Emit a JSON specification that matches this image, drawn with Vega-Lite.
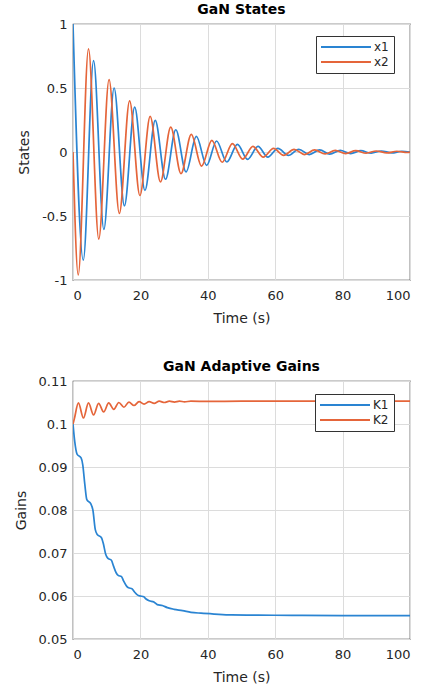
{
  "$schema": "https://vega.github.io/schema/vega-lite/v6.json",
  "background": "white",
  "padding": {"left": 13, "top": 2, "right": 5, "bottom": 0},
  "spacing": 33,
  "config": {
    "font": "DejaVu Sans",
    "view": {"stroke": "#333333", "strokeWidth": 1.2},
    "axis": {
      "labelFont": "DejaVu Sans", "labelFontSize": 13, "labelColor": "#262626",
      "titleFont": "DejaVu Sans", "titleFontSize": 14, "titleFontWeight": "normal", "titleColor": "#262626",
      "grid": true, "gridColor": "#dcdcdc", "gridWidth": 1,
      "domain": false, "ticks": false, "labelPadding": 9, "titlePadding": 9
    },
    "axisY": {"labelPadding": 6, "titlePadding": 10},
    "title": {"font": "DejaVu Sans", "fontSize": 14, "fontWeight": "bold", "color": "#000000", "offset": 1},
    "legend": {
      "orient": "none", "title": null,
      "strokeColor": "#333333", "fillColor": "white", "padding": 5,
      "symbolType": "M-5,0H5", "symbolSize": 100, "symbolStrokeWidth": 2, "symbolOffset": 19,
      "labelFont": "DejaVu Sans", "labelFontSize": 12, "labelColor": "#262626", "labelOffset": 22,
      "rowPadding": 3
    }
  },
  "datasets": {
    "states": [
      {"t": 0, "s": "x1", "v": 1},
      {"t": 3.05, "s": "x1", "v": -0.845},
      {"t": 6.1, "s": "x1", "v": 0.714},
      {"t": 9.15, "s": "x1", "v": -0.605},
      {"t": 12.2, "s": "x1", "v": 0.5},
      {"t": 15.25, "s": "x1", "v": -0.42},
      {"t": 18.3, "s": "x1", "v": 0.35},
      {"t": 21.35, "s": "x1", "v": -0.3},
      {"t": 24.4, "s": "x1", "v": 0.247},
      {"t": 27.45, "s": "x1", "v": -0.213},
      {"t": 30.5, "s": "x1", "v": 0.174},
      {"t": 33.55, "s": "x1", "v": -0.156},
      {"t": 36.6, "s": "x1", "v": 0.122},
      {"t": 39.65, "s": "x1", "v": -0.104},
      {"t": 42.6, "s": "x1", "v": 0.086},
      {"t": 45.65, "s": "x1", "v": -0.078},
      {"t": 48.8, "s": "x1", "v": 0.06},
      {"t": 51.8, "s": "x1", "v": -0.057},
      {"t": 54.9, "s": "x1", "v": 0.044},
      {"t": 57.8, "s": "x1", "v": -0.04},
      {"t": 60.8, "s": "x1", "v": 0.028},
      {"t": 63.9, "s": "x1", "v": -0.027},
      {"t": 67, "s": "x1", "v": 0.021},
      {"t": 70.1, "s": "x1", "v": -0.02},
      {"t": 73.2, "s": "x1", "v": 0.016},
      {"t": 76.2, "s": "x1", "v": -0.016},
      {"t": 79.3, "s": "x1", "v": 0.012},
      {"t": 82.4, "s": "x1", "v": -0.012},
      {"t": 85.4, "s": "x1", "v": 0.01},
      {"t": 88.5, "s": "x1", "v": -0.009},
      {"t": 91.5, "s": "x1", "v": 0.008},
      {"t": 94.6, "s": "x1", "v": -0.007},
      {"t": 97.6, "s": "x1", "v": 0.006},
      {"t": 100, "s": "x1", "v": 0},
      {"t": 0, "s": "x2", "v": 0},
      {"t": 1.55, "s": "x2", "v": -0.96},
      {"t": 4.6, "s": "x2", "v": 0.805},
      {"t": 7.65, "s": "x2", "v": -0.68},
      {"t": 10.7, "s": "x2", "v": 0.566},
      {"t": 13.75, "s": "x2", "v": -0.48},
      {"t": 16.8, "s": "x2", "v": 0.4},
      {"t": 19.85, "s": "x2", "v": -0.34},
      {"t": 22.9, "s": "x2", "v": 0.278},
      {"t": 25.95, "s": "x2", "v": -0.234},
      {"t": 29.0, "s": "x2", "v": 0.195},
      {"t": 32.05, "s": "x2", "v": -0.169},
      {"t": 35.1, "s": "x2", "v": 0.138},
      {"t": 38.15, "s": "x2", "v": -0.11},
      {"t": 41.2, "s": "x2", "v": 0.091},
      {"t": 44.25, "s": "x2", "v": -0.08},
      {"t": 47.3, "s": "x2", "v": 0.065},
      {"t": 50.35, "s": "x2", "v": -0.056},
      {"t": 53.4, "s": "x2", "v": 0.044},
      {"t": 56.45, "s": "x2", "v": -0.04},
      {"t": 59.5, "s": "x2", "v": 0.028},
      {"t": 62.5, "s": "x2", "v": -0.026},
      {"t": 65.6, "s": "x2", "v": 0.021},
      {"t": 68.7, "s": "x2", "v": -0.02},
      {"t": 71.7, "s": "x2", "v": 0.016},
      {"t": 74.8, "s": "x2", "v": -0.015},
      {"t": 77.8, "s": "x2", "v": 0.012},
      {"t": 80.9, "s": "x2", "v": -0.012},
      {"t": 83.9, "s": "x2", "v": 0.01},
      {"t": 87, "s": "x2", "v": -0.009},
      {"t": 90, "s": "x2", "v": 0.008},
      {"t": 93.1, "s": "x2", "v": -0.007},
      {"t": 96.1, "s": "x2", "v": 0.006},
      {"t": 99.2, "s": "x2", "v": -0.004},
      {"t": 100, "s": "x2", "v": 0}
    ],
    "gains": [
      {"t": 0, "s": "K1", "v": 0.1},
      {"t": 0.5, "s": "K1", "v": 0.096},
      {"t": 1.2, "s": "K1", "v": 0.093},
      {"t": 2.4, "s": "K1", "v": 0.0921},
      {"t": 2.9, "s": "K1", "v": 0.0905},
      {"t": 3.5, "s": "K1", "v": 0.086},
      {"t": 4.1, "s": "K1", "v": 0.0824},
      {"t": 5.3, "s": "K1", "v": 0.0814},
      {"t": 5.9, "s": "K1", "v": 0.08},
      {"t": 6.6, "s": "K1", "v": 0.0755},
      {"t": 7.2, "s": "K1", "v": 0.0743},
      {"t": 8.4, "s": "K1", "v": 0.0736},
      {"t": 9.0, "s": "K1", "v": 0.0722},
      {"t": 9.7, "s": "K1", "v": 0.0697},
      {"t": 10.3, "s": "K1", "v": 0.0688},
      {"t": 11.4, "s": "K1", "v": 0.0683},
      {"t": 12.0, "s": "K1", "v": 0.067},
      {"t": 12.8, "s": "K1", "v": 0.0654},
      {"t": 13.4, "s": "K1", "v": 0.0648},
      {"t": 14.4, "s": "K1", "v": 0.0645},
      {"t": 15.0, "s": "K1", "v": 0.0635},
      {"t": 15.9, "s": "K1", "v": 0.0623},
      {"t": 16.5, "s": "K1", "v": 0.0619},
      {"t": 17.5, "s": "K1", "v": 0.0617},
      {"t": 18.2, "s": "K1", "v": 0.061},
      {"t": 19.2, "s": "K1", "v": 0.0602},
      {"t": 20.0, "s": "K1", "v": 0.06},
      {"t": 21.0, "s": "K1", "v": 0.0598},
      {"t": 21.7, "s": "K1", "v": 0.0593},
      {"t": 22.6, "s": "K1", "v": 0.0589},
      {"t": 24.0, "s": "K1", "v": 0.0586},
      {"t": 25.0, "s": "K1", "v": 0.058},
      {"t": 26.5, "s": "K1", "v": 0.0578},
      {"t": 28.0, "s": "K1", "v": 0.0573},
      {"t": 30.0, "s": "K1", "v": 0.0569},
      {"t": 32.5, "s": "K1", "v": 0.0566},
      {"t": 35.0, "s": "K1", "v": 0.0562},
      {"t": 38.0, "s": "K1", "v": 0.056},
      {"t": 42.0, "s": "K1", "v": 0.0558},
      {"t": 47.0, "s": "K1", "v": 0.0556},
      {"t": 55.0, "s": "K1", "v": 0.05555},
      {"t": 65.0, "s": "K1", "v": 0.0555},
      {"t": 80.0, "s": "K1", "v": 0.05545},
      {"t": 100.0, "s": "K1", "v": 0.05545},
      {"t": 0, "s": "K2", "v": 0.1},
      {"t": 0.4, "s": "K2", "v": 0.1012},
      {"t": 1.6, "s": "K2", "v": 0.1049},
      {"t": 3.1, "s": "K2", "v": 0.1014},
      {"t": 4.6, "s": "K2", "v": 0.1049},
      {"t": 6.1, "s": "K2", "v": 0.1021},
      {"t": 7.6, "s": "K2", "v": 0.1048},
      {"t": 9.1, "s": "K2", "v": 0.1028},
      {"t": 10.6, "s": "K2", "v": 0.1049},
      {"t": 12.1, "s": "K2", "v": 0.1034},
      {"t": 13.6, "s": "K2", "v": 0.105},
      {"t": 15.1, "s": "K2", "v": 0.1039},
      {"t": 16.6, "s": "K2", "v": 0.1051},
      {"t": 18.1, "s": "K2", "v": 0.1043},
      {"t": 19.6, "s": "K2", "v": 0.1052},
      {"t": 21.1, "s": "K2", "v": 0.1046},
      {"t": 22.6, "s": "K2", "v": 0.1052},
      {"t": 24.1, "s": "K2", "v": 0.1048},
      {"t": 25.6, "s": "K2", "v": 0.1053},
      {"t": 27.1, "s": "K2", "v": 0.105},
      {"t": 28.6, "s": "K2", "v": 0.1053},
      {"t": 30.1, "s": "K2", "v": 0.1051},
      {"t": 31.6, "s": "K2", "v": 0.1053},
      {"t": 33.1, "s": "K2", "v": 0.10515},
      {"t": 35.0, "s": "K2", "v": 0.1053},
      {"t": 40.0, "s": "K2", "v": 0.10525},
      {"t": 50.0, "s": "K2", "v": 0.1053},
      {"t": 100.0, "s": "K2", "v": 0.1053}
    ]
  },
  "vconcat": [
    {
      "title": "GaN States",
      "width": 337,
      "height": 256,
      "data": {"name": "states"},
      "mark": {"type": "line", "interpolate": "monotone", "strokeWidth": 1.7, "clip": true},
      "encoding": {
        "x": {"field": "t", "type": "quantitative", "scale": {"domain": [0, 100], "nice": false},
              "axis": {"title": "Time (s)", "values": [0, 20, 40, 60, 80, 100]}},
        "y": {"field": "v", "type": "quantitative", "scale": {"domain": [-1, 1], "nice": false},
              "axis": {"title": "States", "values": [-1, -0.5, 0, 0.5, 1], "labelExpr": "'' + datum.value"}},
        "color": {"field": "s", "type": "nominal",
                  "scale": {"domain": ["x1", "x2"], "range": ["#2a84d2", "#e5653a"]},
                  "legend": {"legendX": 243, "legendY": 12}}
      }
    },
    {
      "title": "GaN Adaptive Gains",
      "width": 337,
      "height": 258,
      "data": {"name": "gains"},
      "mark": {"type": "line", "interpolate": "monotone", "strokeWidth": 1.7, "clip": true},
      "encoding": {
        "x": {"field": "t", "type": "quantitative", "scale": {"domain": [0, 100], "nice": false},
              "axis": {"title": "Time (s)", "values": [0, 20, 40, 60, 80, 100]}},
        "y": {"field": "v", "type": "quantitative", "scale": {"domain": [0.05, 0.11], "nice": false},
              "axis": {"title": "Gains", "values": [0.05, 0.06, 0.07, 0.08, 0.09, 0.1, 0.11], "labelExpr": "'' + datum.value"}},
        "color": {"field": "s", "type": "nominal",
                  "scale": {"domain": ["K1", "K2"], "range": ["#2a84d2", "#e5653a"]},
                  "legend": {"legendX": 242, "legendY": 13}}
      }
    }
  ],
  "resolve": {"scale": {"color": "independent"}}
}
